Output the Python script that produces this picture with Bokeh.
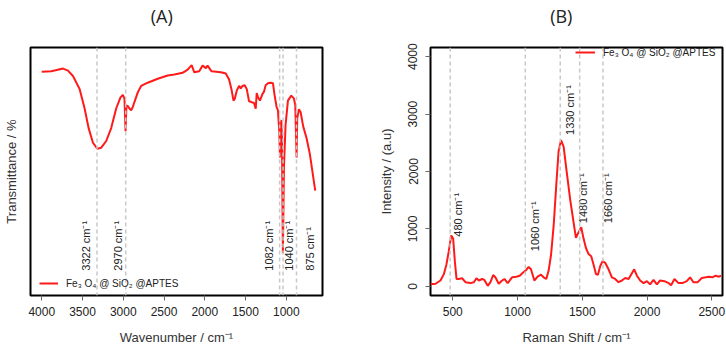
import math
from bokeh.plotting import figure
from bokeh.layouts import row
from bokeh.models import (Range1d, FixedTicker, Span, Legend, LegendItem, ColumnDataSource,
                          LinearAxis)
from bokeh.core.properties import value
from bokeh.embed import file_html
from bokeh.resources import INLINE

# ---------------- Panel A : FTIR ----------------
ir_wavenumber = [4000, 3882, 3739, 3678, 3617, 3535, 3474, 3425, 3372, 3319, 3270, 3209, 3148,
                 3087, 3034, 3005, 2985, 2972, 2961, 2944, 2924, 2903, 2883, 2863, 2822, 2781,
                 2700, 2577, 2455, 2373, 2272, 2210, 2161, 2129, 2068, 2027, 1986, 1966, 1917,
                 1803, 1742, 1702, 1673, 1648, 1632, 1608, 1580, 1559, 1538, 1510, 1485, 1457,
                 1428, 1396, 1375, 1363, 1347, 1323, 1293, 1274, 1253, 1225, 1192, 1164, 1143,
                 1119, 1103, 1086, 1078, 1070, 1061, 1054, 1042, 1029, 1009, 980, 939, 907, 890,
                 874, 866, 846, 825, 792, 752, 711, 670, 645]
ir_transmittance = [90.2, 90.4, 91.5, 90.7, 88.5, 83.2, 75.4, 67.5, 61.6, 59.2, 59.6, 62.3, 67.5,
                    75.4, 79.9, 80.9, 79.3, 66.2, 76.7, 76.4, 75.4, 74.7, 76.0, 78.0, 81.9, 84.5,
                    85.8, 87.4, 88.7, 89.1, 89.8, 91.1, 92.9, 90.0, 90.4, 92.7, 91.7, 92.7, 90.4,
                    90.0, 89.5, 87.1, 83.2, 78.6, 79.3, 82.6, 84.5, 83.5, 84.5, 84.8, 83.2, 78.3,
                    78.0, 77.6, 75.3, 81.6, 79.9, 78.6, 81.2, 82.2, 84.8, 85.6, 85.8, 85.6, 80.6,
                    76.0, 74.7, 66.2, 55.7, 66.2, 70.8, 64.9, 17.0, 51.7, 68.8, 78.6, 80.6, 79.5, 76.7,
                    55.7, 71.4, 75.1, 74.0, 68.1, 63.5, 57.0, 47.8, 42.3]
ir_peaks = [3322, 2970, 1082, 1040, 875]
ir_peak_labels = ["3322 cm\u207b\u00b9", "2970 cm\u207b\u00b9", "1082 cm\u207b\u00b9",
                  "1040 cm\u207b\u00b9", "875 cm\u207b\u00b9"]
ir_label_x = [3454, 3061, 1210, 966, 715]
ir_label_y = [10, 10, 10, 10, 10]
ir_xticks = [4000, 3500, 3000, 2500, 2000, 1500, 1000]

# ---------------- Panel B : Raman ----------------
raman_shift = [328, 367, 405, 431, 451, 469, 488, 503, 516, 529, 546, 572, 598, 636, 663, 683,
               701, 727, 744, 770, 791, 812, 829, 855, 881, 899, 924, 958, 991, 1017, 1043,
               1066, 1086, 1104, 1130, 1155, 1181, 1202, 1222, 1240, 1259, 1279, 1300, 1317,
               1336, 1356, 1382, 1407, 1433, 1451, 1472, 1492, 1510, 1529, 1549, 1569, 1587,
               1606, 1621, 1639, 1657, 1677, 1703, 1729, 1754, 1780, 1806, 1832, 1858, 1879,
               1901, 1922, 1947, 1973, 1999, 2024, 2050, 2076, 2101, 2135, 2166, 2186, 2212,
               2243, 2273, 2307, 2333, 2358, 2392, 2423, 2454, 2479, 2505, 2530, 2556, 2572]
raman_intensity = [34, 44, 101, 212, 381, 607, 887, 831, 438, 128, 128, 140, 72, 56, 72, 140,
                   101, 128, 111, 8, 72, 196, 157, 44, 101, 128, 56, 157, 168, 185, 241,
                   280, 337, 297, 101, 168, 202, 157, 128, 270, 550, 1056, 1788, 2349,
                   2546, 2433, 1956, 1506, 1113, 843, 944, 1029, 831, 663, 562, 523, 381,
                   212, 202, 354, 438, 410, 297, 157, 128, 72, 101, 145, 128, 212,
                   297, 185, 101, 56, 89, 34, 111, 34, 101, 89, 56, 17, 128,
                   56, 56, 89, 157, 72, 72, 145, 157, 168, 157, 185, 168, 185]
raman_peaks = [480, 1060, 1330, 1480, 1660]
raman_peak_labels = ["480 cm\u207b\u00b9", "1060 cm\u207b\u00b9", "1330 cm\u207b\u00b9",
                     "1480 cm\u207b\u00b9", "1660 cm\u207b\u00b9"]
raman_label_x = [544, 1132, 1402, 1508, 1701]
raman_label_y = [865, 612, 2636, 1100, 1100]
raman_xticks = [500, 1000, 1500, 2000, 2500]
raman_yticks = [0, 1000, 2000, 3000, 4000]

legend_label = "Fe\u2083 O\u2084 @ SiO\u2082 @APTES"
panel_titles = ["(A)", "(B)"]

FONT = "Liberation Sans"
RED = "#ff1a1a"
DASH_COLOR = "#c8c8c8"


def style(p):
    p.outline_line_color = "black"
    p.outline_line_width = 2
    p.grid.visible = False
    p.background_fill_color = "white"
    p.border_fill_color = "white"
    for ax in p.axis:
        ax.axis_line_color = None
        ax.major_tick_out = 5
        ax.major_tick_in = 0
        ax.minor_tick_line_color = None
        ax.major_tick_line_color = "#666666"
        ax.major_label_text_font = FONT
        ax.major_label_text_font_size = "12px"
        ax.major_label_text_color = "#222222"
        ax.axis_label_text_font = FONT
        ax.axis_label_text_font_size = "13px"
        ax.axis_label_text_font_style = "normal"
        ax.axis_label_text_color = "#333333"
    p.xaxis.major_label_standoff = 6
    p.xaxis.axis_label_standoff = 11


def add_title(p, text, x_pos):
    # panel heading drawn as the single label of an axis above the frame
    ax = LinearAxis(ticker=FixedTicker(ticks=[x_pos]), major_label_overrides={x_pos: text},
                    axis_line_color=None, major_tick_line_color=None, minor_tick_line_color=None,
                    major_tick_out=0, major_tick_in=0, major_label_standoff=20,
                    major_label_text_font="Open Sans", major_label_text_font_size="18px",
                    major_label_text_color="#222222")
    p.add_layout(ax, "above")


# ---- figure A
pA = figure(width=363, height=347, output_backend="svg", toolbar_location=None,
            x_range=Range1d(4138, 556), y_range=Range1d(0, 100),
            min_border_left=29, min_border_right=41, min_border_top=44, min_border_bottom=49)
srcA = ColumnDataSource(dict(x=ir_wavenumber, y=ir_transmittance))
lineA = pA.line("x", "y", source=srcA, line_color=RED, line_width=2)
for pk in ir_peaks:
    pA.add_layout(Span(location=pk, dimension="height", line_color=DASH_COLOR,
                       line_dash="4 3", line_width=1.5))
pA.text(x=ir_label_x, y=ir_label_y, text=ir_peak_labels, angle=math.pi / 2,
        text_align="left", text_baseline="middle", text_font=value(FONT),
        text_font_size="11px", text_color="#222222")
pA.xaxis.ticker = FixedTicker(ticks=ir_xticks)
pA.xaxis.axis_label = "Wavenumber / cm\u207b\u00b9"
pA.yaxis.ticker = FixedTicker(ticks=[])
pA.yaxis.axis_label = "Transmittance / %"
style(pA)
pA.yaxis.major_tick_out = 0
pA.yaxis.axis_label_standoff = 12
add_title(pA, panel_titles[0], 2528)
legA = Legend(items=[LegendItem(label=legend_label, renderers=[lineA])], location=(9, 5),
              padding=0, margin=0, spacing=0, border_line_color=None, background_fill_alpha=0,
              glyph_width=19, glyph_height=14, label_height=14, label_standoff=8,
              label_text_font=FONT, label_text_font_size="10px", label_text_color="#222222")
pA.add_layout(legA)

# ---- figure B
pB = figure(width=363, height=347, output_backend="svg", toolbar_location=None,
            x_range=Range1d(328, 2583), y_range=Range1d(-160, 4160),
            min_border_left=67, min_border_right=4, min_border_top=44, min_border_bottom=49)
srcB = ColumnDataSource(dict(x=raman_shift, y=raman_intensity))
lineB = pB.line("x", "y", source=srcB, line_color=RED, line_width=2)
for pk in raman_peaks:
    pB.add_layout(Span(location=pk, dimension="height", line_color=DASH_COLOR,
                       line_dash="4 3", line_width=1.5))
pB.text(x=raman_label_x, y=raman_label_y, text=raman_peak_labels, angle=math.pi / 2,
        text_align="left", text_baseline="middle", text_font=value(FONT),
        text_font_size="11px", text_color="#222222")
pB.xaxis.ticker = FixedTicker(ticks=raman_xticks)
pB.yaxis.ticker = FixedTicker(ticks=raman_yticks)
pB.xaxis.axis_label = "Raman Shift / cm\u207b\u00b9"
pB.yaxis.axis_label = "Intensity / (a.u)"
style(pB)
pB.yaxis.major_label_orientation = "vertical"
pB.yaxis.major_label_standoff = 8
pB.yaxis.axis_label_standoff = 12
add_title(pB, panel_titles[1], 1338)
legB = Legend(items=[LegendItem(label=legend_label, renderers=[lineB])], location=(145, 236),
              padding=0, margin=0, spacing=0, border_line_color=None, background_fill_alpha=0,
              glyph_width=20, glyph_height=14, label_height=14, label_standoff=8,
              label_text_font=FONT, label_text_font_size="10px", label_text_color="#222222")
pB.add_layout(legB)

layout = row(pA, pB)
open("out.html", "w").write(file_html(layout, INLINE))
